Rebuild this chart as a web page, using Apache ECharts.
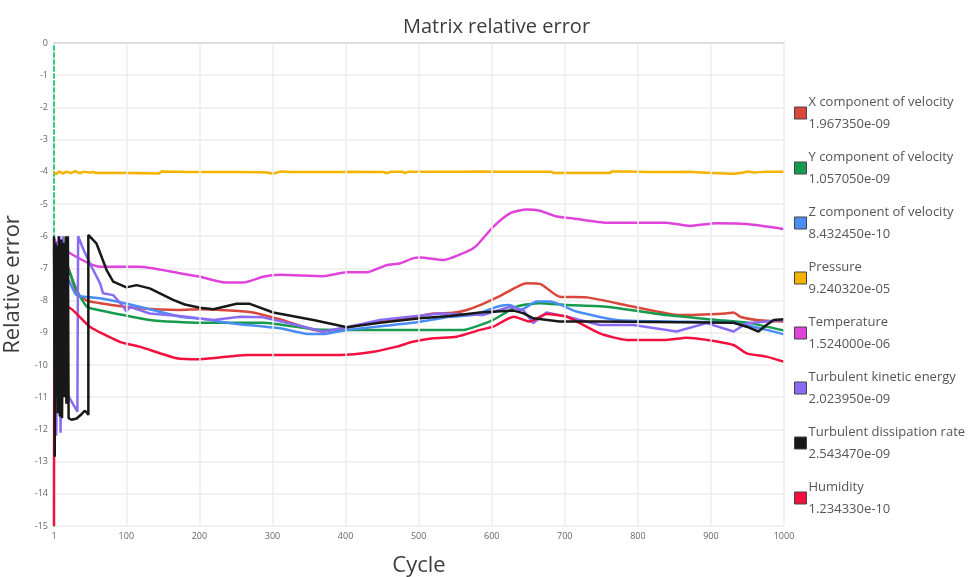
<!DOCTYPE html>
<html>
<head>
<meta charset="utf-8">
<script src="https://cdn.jsdelivr.net/npm/echarts@6/dist/echarts.min.js"></script>
<style>
  html, body { margin: 0; padding: 0; background: #fff; }
  #chart { width: 979px; height: 577px; }
</style>
</head>
<body>
<div id="chart"></div>
<script>
// legend names, final residuals and colours
const names = ['X component of velocity', 'Y component of velocity', 'Z component of velocity', 'Pressure',
  'Temperature', 'Turbulent kinetic energy', 'Turbulent dissipation rate', 'Humidity'];
const finals = ['1.967350e-09', '1.057050e-09', '8.432450e-10', '9.240320e-05',
  '1.524000e-06', '2.023950e-09', '2.543470e-09', '1.234330e-10'];
const colors = ['#d9473a', '#169a4e', '#4a8df5', '#f5b300', '#e043dc', '#8a6cf4', '#181818', '#f3103e'];
const xTicks = [1, 100, 200, 300, 400, 500, 600, 700, 800, 900, 1000];

// [cycle, log10 relative error]
const xVel = [[1,-6.1],[10,-6.6],[21,-7.0],[32,-7.77],[46,-8.0],[64,-8.08],[118,-8.24],[173,-8.29],[201,-8.27],
  [242,-8.31],[273,-8.37],[310,-8.58],[369,-8.96],[402,-8.83],[447,-8.65],[475,-8.57],[502,-8.48],[520,-8.4],
  [547,-8.38],[566,-8.29],[584,-8.14],[611,-7.86],[648,-7.46],[666,-7.48],[693,-7.88],[730,-7.9],[794,-8.19],
  [858,-8.45],[920,-8.4],[931,-8.37],[940,-8.5],[963,-8.6],[1000,-8.65]];
const yVel = [[1,-6.1],[12,-6.7],[22,-7.1],[32,-7.67],[46,-8.19],[55,-8.26],[132,-8.6],[201,-8.69],[287,-8.69],
  [356,-8.89],[402,-8.91],[561,-8.91],[584,-8.76],[602,-8.6],[634,-8.19],[666,-8.08],[703,-8.14],[757,-8.19],
  [839,-8.45],[908,-8.6],[953,-8.7],[1000,-8.93]];
const zVel = [[1,-6.2],[12,-7.0],[22,-7.4],[32,-7.83],[64,-7.93],[118,-8.19],[173,-8.5],[201,-8.56],[242,-8.7],
  [310,-8.86],[346,-9.03],[369,-9.04],[402,-8.91],[492,-8.69],[543,-8.5],[574,-8.45],[611,-8.17],[625,-8.14],
  [639,-8.29],[662,-8.03],[680,-8.03],[716,-8.34],[771,-8.6],[839,-8.65],[931,-8.69],[976,-8.91],[1000,-9.05]];
const pressure = [[1,-4.02],[4,-4.07],[8,-3.99],[13,-4.05],[18,-4.0],[24,-4.04],[30,-3.98],[36,-4.04],[42,-4.0],
  [50,-4.02],[56,-4.01],[58,-4.04],[100,-4.04],[145,-4.05],[148,-3.99],[200,-4.01],[250,-4.01],[292,-4.02],
  [300,-4.06],[312,-3.99],[330,-4.01],[370,-4.01],[410,-4.0],[452,-4.01],[456,-4.04],[462,-4.0],[478,-4.0],
  [481,-4.04],[486,-4.0],[540,-4.0],[585,-3.99],[620,-4.0],[650,-4.0],[682,-4.0],[684,-4.04],[720,-4.04],
  [762,-4.04],[764,-3.99],[800,-4.0],[835,-4.01],[870,-4.0],[895,-4.03],[930,-4.06],[945,-4.02],[950,-3.99],
  [960,-4.02],[975,-4.0],[1000,-4.0]];
const temperature = [[1,-6.1],[11,-6.37],[64,-6.95],[118,-6.95],[173,-7.15],[201,-7.26],[237,-7.44],[260,-7.44],
  [287,-7.26],[310,-7.2],[369,-7.24],[402,-7.12],[429,-7.12],[456,-6.9],[475,-6.84],[492,-6.69],[502,-6.66],
  [534,-6.74],[566,-6.48],[579,-6.3],[602,-5.71],[625,-5.29],[648,-5.17],[666,-5.21],[689,-5.39],[712,-5.45],
  [757,-5.58],[839,-5.58],[871,-5.68],[908,-5.6],[949,-5.62],[995,-5.76],[1000,-5.78]];
const tke = [[1,-6.4],[4,-12.2],[7,-6.0],[10,-12.1],[13,-6.0],[19,-10.9],[33,-11.45],[34,-6.0],[41,-6.4],
  [50,-6.84],[64,-7.46],[68,-7.77],[82,-7.83],[96,-8.19],[100,-8.34],[105,-8.19],[132,-8.4],[173,-8.48],
  [219,-8.6],[256,-8.5],[287,-8.52],[333,-8.76],[369,-8.96],[402,-8.83],[447,-8.6],[529,-8.4],[588,-8.45],
  [625,-8.19],[643,-8.29],[657,-8.7],[675,-8.37],[703,-8.5],[748,-8.76],[794,-8.76],[853,-8.96],[894,-8.7],
  [931,-8.96],[949,-8.7],[976,-8.65],[1000,-8.6]];
const tdr = [[1,-6.0],[2,-12.85],[3,-6.2],[4,-11.0],[5,-6.3],[6,-11.5],[8,-6.0],[9,-11.6],[11,-6.1],[12,-11.65],
  [14,-6.2],[15,-11.0],[17,-6.0],[18,-11.2],[20,-6.0],[21,-11.65],[25,-11.7],[32,-11.66],[39,-11.52],[43,-11.42],
  [46,-11.48],[48,-11.55],[48,-5.96],[59,-6.22],[73,-7.05],[82,-7.41],[100,-7.59],[114,-7.52],[132,-7.62],
  [164,-7.98],[180,-8.12],[201,-8.22],[219,-8.27],[251,-8.1],[269,-8.1],[301,-8.37],[356,-8.6],[402,-8.83],
  [447,-8.69],[502,-8.55],[543,-8.48],[584,-8.37],[630,-8.31],[643,-8.39],[657,-8.55],[693,-8.65],[748,-8.65],
  [931,-8.69],[949,-8.81],[965,-8.96],[976,-8.76],[986,-8.6],[1000,-8.58]];
const humidity = [[1,-15.0],[2,-9.25],[21,-8.21],[50,-8.81],[91,-9.28],[118,-9.43],[169,-9.79],[201,-9.82],
  [265,-9.69],[392,-9.69],[438,-9.59],[470,-9.43],[492,-9.28],[520,-9.17],[552,-9.12],[584,-8.91],[602,-8.81],
  [630,-8.5],[652,-8.65],[675,-8.42],[703,-8.5],[748,-9.02],[785,-9.22],[839,-9.22],[867,-9.15],[894,-9.22],
  [931,-9.38],[949,-9.64],[976,-9.74],[1000,-9.9]];

const seriesData = [xVel, yVel, zVel, pressure, temperature, tke, tdr, humidity];
const spiky = [false, false, false, false, false, true, true, false];

const font = "'Segoe UI', 'Open Sans', sans-serif";
let chart = echarts.init(document.getElementById('chart'));

let lines = names.map((name, i) => ({
  name: name,
  type: 'line',
  data: seriesData[i],
  showSymbol: false,
  smooth: spiky[i] ? false : 0.2,
  lineStyle: { width: 2.5 },
  z: i === 6 ? 3 : 2
}));

// vertical grid lines at the cycle ticks (axis starts at 1, so drawn as marks)
lines.push({
  name: 'grid',
  type: 'line',
  data: [],
  z: 0,
  markLine: {
    silent: true,
    symbol: 'none',
    label: { show: false },
    lineStyle: { color: '#ececec', width: 1.5, type: 'solid' },
    data: xTicks.slice(1).map(v => ({ xAxis: v }))
  }
});

let option = {
  animation: false,
  color: colors,
  title: {
    text: 'Matrix relative error',
    left: 398,
    top: 12,
    textStyle: { fontFamily: font, fontSize: 20, fontWeight: 'normal', color: '#3d3d3d' }
  },
  legend: {
    orient: 'vertical',
    left: 789,
    top: 86,
    itemWidth: 12,
    itemHeight: 12,
    itemGap: 11,
    icon: 'rect',
    itemStyle: { borderColor: '#444', borderWidth: 1 },
    formatter: name => name + '\n' + finals[names.indexOf(name)],
    textStyle: { fontFamily: font, fontSize: 13, color: '#555', lineHeight: 22, padding: [0, 0, 0, -3] },
    data: names
  },
  grid: { left: 54, right: 195, top: 43, bottom: 51, outerBoundsMode: 'none' },
  xAxis: {
    type: 'value',
    min: 1,
    max: 1000,
    name: 'Cycle',
    nameLocation: 'middle',
    nameGap: 29,
    nameTextStyle: { fontFamily: font, fontSize: 22, color: '#3d3d3d' },
    axisLine: { lineStyle: { color: '#dcdcdc', width: 2 } },
    axisTick: { show: false, customValues: xTicks },
    axisLabel: { customValues: xTicks, formatter: v => String(v), fontFamily: font, fontSize: 9, color: '#666', margin: 6 },
    splitLine: { show: false }
  },
  yAxis: {
    type: 'value',
    min: -15,
    max: 0,
    interval: 1,
    name: 'Relative error',
    nameLocation: 'middle',
    nameGap: 19,
    nameTextStyle: { fontFamily: font, fontSize: 22, color: '#3d3d3d' },
    axisLine: { show: true, onZero: false, lineStyle: { color: '#2fcf7a', width: 2, type: [4, 3] } },
    axisTick: { show: false },
    axisLabel: { fontFamily: font, fontSize: 9, color: '#666', margin: 6 },
    splitLine: { lineStyle: { color: '#ececec', width: 1.5 } }
  },
  series: lines
};
chart.setOption(option);
</script>
</body>
</html>
